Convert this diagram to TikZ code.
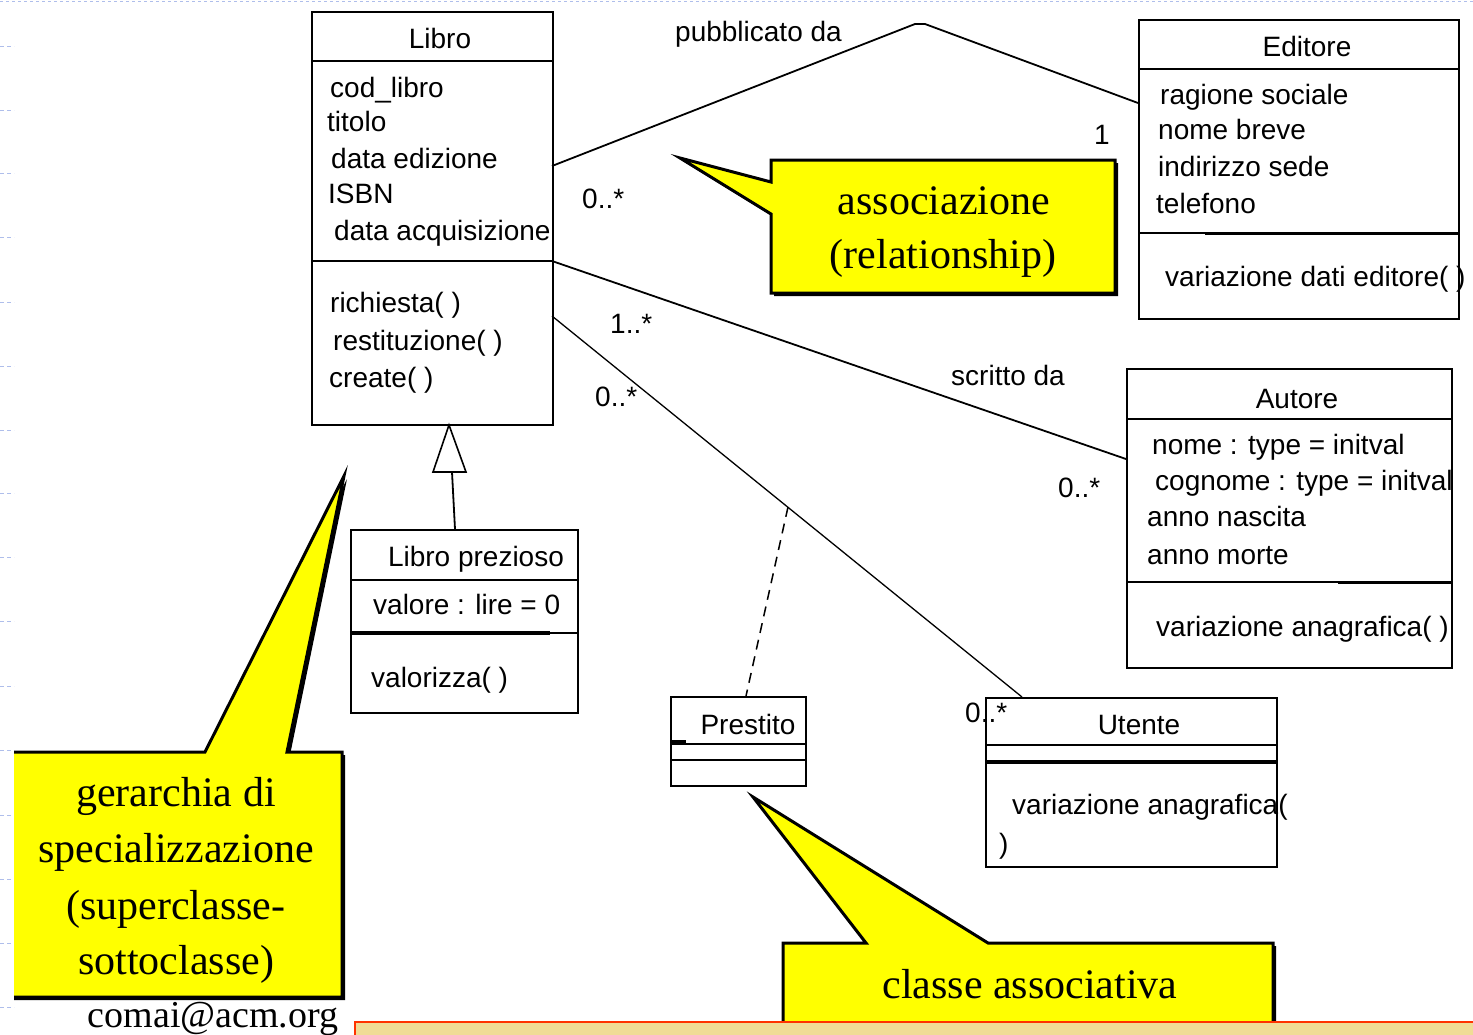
\documentclass[tikz,border=0pt]{standalone}
\usepackage{fontspec}
\setmainfont{Liberation Sans}
\newfontfamily\tmsfont{Liberation Serif}
\definecolor{callyellow}{RGB}{255,255,0}
\definecolor{bartan}{RGB}{240,220,150}
\definecolor{barred}{RGB}{255,51,0}
\definecolor{ghost}{RGB}{175,190,235}
\begin{document}
\begin{tikzpicture}[x=1pt,y=-1pt,
 cls/.style={draw,line width=1.7pt,inner sep=0pt,anchor=north west},
 txt/.style={anchor=base west,inner sep=0pt,font=\fontsize{28}{32}\selectfont},
 ttl/.style={anchor=base,inner sep=0pt,font=\fontsize{28}{32}\selectfont},
 sep/.style={line width=1.5pt},
 thicksep/.style={line width=3.4pt},
 assoc/.style={line width=1.8pt},
 callout/.style={fill=callyellow,draw=black,line width=3pt,line join=miter},
 cshadow/.style={fill=black},
 ctext/.style={anchor=base,inner sep=0pt,font=\tmsfont\fontsize{42}{46}\selectfont}]
\useasboundingbox[fill=white] (0,0) rectangle (1473,1034);
% faint slide artefacts
\draw[ghost,dashed,line width=1.2pt] (0,1.5) -- (1473,1.5);
\foreach \yy in {46,110,173,237,302,366,430,493,557,621,686,750,815,879,943,1007}
  \draw[ghost,dash pattern=on 4pt off 3pt,line width=1pt] (0,\yy) -- (14,\yy);

% ---------- Libro ----------
\node[cls,minimum width=241pt,minimum height=413pt] (libro) at (311,11) {};
\draw[sep] (311,61) -- (552,61);
\draw[sep] (311,261) -- (552,261);
\node[ttl] (libroT) at (440,48) {Libro};
\node[txt] (l1) at (330,97) {cod\_libro};
\node[txt] (l2) at (327,131) {titolo};
\node[txt] (l3) at (331,168) {data edizione};
\node[txt] (l4) at (328,203) {ISBN};
\node[txt] (l5) at (334,240) {data acquisizione};
\node[txt] (l6) at (330,312) {richiesta( )};
\node[txt] (l7) at (333,350) {restituzione( )};
\node[txt] (l8) at (329,387) {create( )};

% ---------- Editore ----------
\node[cls,minimum width=320pt,minimum height=299pt] (editore) at (1138,19) {};
\draw[sep] (1138,69) -- (1458,69);
\draw[sep] (1138,233) -- (1205,233);
\draw[thicksep] (1205,233.5) -- (1458,233.5);
\node[ttl] (editoreT) at (1307,56) {Editore};
\node[txt] (e1) at (1160,104) {ragione sociale};
\node[txt] (e2) at (1158,139) {nome breve};
\node[txt] (e3) at (1158,176) {indirizzo sede};
\node[txt] (e4) at (1156,213) {telefono};
\node[txt] (e5) at (1165,286) {variazione dati editore( )};

% ---------- Autore ----------
\node[cls,minimum width=325pt,minimum height=299pt] (autore) at (1126,368) {};
\draw[sep] (1126,419) -- (1451,419);
\draw[sep] (1126,582) -- (1338,582);
\draw[thicksep] (1338,582.5) -- (1451,582.5);
\node[ttl] (autoreT) at (1297,408) {Autore};
\node[txt] (a1) at (1152,454) {nome : type = initval};
\node[txt] (a2) at (1155,490) {cognome : type = initval};
\node[txt] (a3) at (1147,526) {anno nascita};
\node[txt] (a4) at (1147,564) {anno morte};
\node[txt] (a5) at (1156,636) {variazione anagrafica( )};

% ---------- Libro prezioso ----------
\node[cls,minimum width=227pt,minimum height=183pt] (prezioso) at (350,529) {};
\draw[sep] (350,580) -- (577,580);
\draw[thicksep] (350,633) -- (550,633);
\draw[sep] (550,633) -- (577,633);
\node[ttl] (preziosoT) at (476,566) {Libro prezioso};
\node[txt] (p1) at (373,614) {valore : lire = 0};
\node[txt] (p2) at (371,687) {valorizza( )};

% ---------- Prestito ----------
\node[cls,minimum width=135pt,minimum height=89pt] (prestito) at (670,696) {};
\draw[sep] (670,744) -- (805,744);
\draw[sep] (670,760) -- (805,760);
\draw[thicksep] (670,742) -- (686,742);
\node[ttl] (prestitoT) at (748,734) {Prestito};

% ---------- Utente ----------
\node[cls,minimum width=291pt,minimum height=169pt] (utente) at (985,697) {};
\draw[sep] (985,745) -- (1276,745);
\draw[thicksep] (985,762) -- (1276,762);
\node[ttl] (utenteT) at (1139,734) {Utente};
\node[txt] (u1) at (1012,814) {variazione anagrafica(};
\node[txt] (u2) at (999,853) {)};

% ---------- connectors ----------
\coordinate (pubL) at (552,166);
\coordinate (pubM1) at (915,24);
\coordinate (pubM2) at (925,24);
\coordinate (pubR) at (1138,103);
\draw[assoc] (pubL) -- (pubM1) -- (pubM2) -- (pubR);
\coordinate (scrL) at (552,261);
\coordinate (scrR) at (1126,459);
\draw[assoc] (scrL) -- (scrR);
\coordinate (uteL) at (552,316);
\coordinate (uteR) at (1022,697);
\draw[line width=1.3pt] (uteL) -- (uteR);
\coordinate (acPt) at (788,507);
\coordinate (prestTop) at (746,696);
\draw[line width=1.5pt,dash pattern=on 10pt off 7pt] (acPt) -- (prestTop);
\coordinate (genB) at (455,529);
\coordinate (genT) at (452,472);
\coordinate (genTip) at (449,425);
\draw[assoc] (genB) -- (genT);
\draw[line width=1.6pt,fill=white,line join=miter] (genTip) -- (433,472) -- (466,472) -- cycle;

% labels
\node[txt] (lpub) at (675,41) {pubblicato da};
\node[txt] (m1) at (582,208) {0..*};
\node[txt] (m2) at (1094,144) {1};
\node[txt] (m3) at (610,333) {1..*};
\node[txt] (lscr) at (951,385) {scritto da};
\node[txt] (m4) at (595,406) {0..*};
\node[txt] (m5) at (1058,497) {0..*};
\node[txt] (m6) at (965,722) {0..*};

% ---------- callouts ----------
% associazione
\fill[cshadow] (774,163) -- (1118,163) -- (1118,296) -- (774,296) -- (774,217) -- (683,161) -- (774,185) -- cycle;
\filldraw[callout] (771,160) -- (1115,160) -- (1115,293) -- (771,293) -- (771,214) -- (680,158) -- (771,182) -- cycle;
\node[ctext] (c1a) at (944,214) {associazione};
\node[ctext] (c1b) at (943,268) {(relationship)};

% gerarchia
\begin{scope}
\clip (14,0) rectangle (1473,1034);
\fill[cshadow] (0,755) -- (208,755) -- (347,479) -- (290,755) -- (345,755) -- (345,1000) -- (0,1000) -- cycle;
\filldraw[callout] (0,752) -- (205,752) -- (344,476) -- (287,752) -- (342,752) -- (342,997) -- (0,997) -- cycle;
\end{scope}
\node[ctext] (c2a) at (176,806) {gerarchia di};
\node[ctext] (c2b) at (176,862) {specializzazione};
\node[ctext] (c2c) at (176,919) {(superclasse-};
\node[ctext] (c2d) at (176,974) {sottoclasse)};

% classe associativa
\fill[cshadow] (786,946) -- (869,946) -- (756,800) -- (991,946) -- (1276,946) -- (1276,1030) -- (786,1030) -- cycle;
\filldraw[callout] (783,943) -- (866,943) -- (753,797) -- (988,943) -- (1273,943) -- (1273,1030) -- (783,1030) -- cycle;
\node[ctext] (c3) at (1030,998) {classe associativa};

% bottom bar and signature
\draw[barred,fill=bartan,line width=2pt] (355,1022) rectangle (1495,1050);
\node[anchor=base,inner sep=0pt,font=\tmsfont\fontsize{38}{42}\selectfont] (sig) at (213,1027) {comai@acm.org};
\end{tikzpicture}
\end{document}
